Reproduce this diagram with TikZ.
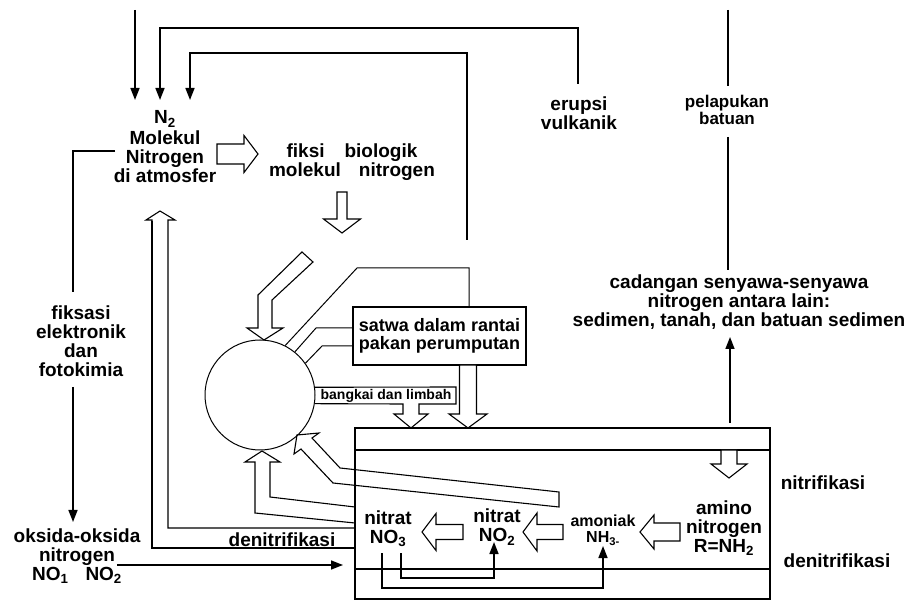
\documentclass[tikz,border=0pt]{standalone}
\usepackage{fontspec}
\setmainfont{Liberation Sans}
\usetikzlibrary{arrows.meta}

% fat (hollow) arrow: tip, angle, length, half shaft, half head
\newcommand{\fatarrow}[5]{%
  \draw[hollow,fill=white,shift={#1},rotate=#2] (0,0) -- (-14,-#5) -- (-14,-#4)
    -- (-#3,-#4) -- (-#3,#4) -- (-14,#4) -- (-14,#5) -- cycle;}

\begin{document}
\begin{tikzpicture}[x=1pt,y=-1pt,
  every node/.style={font=\bfseries\fontsize{19}{19}\selectfont,align=center,inner sep=0pt},
  small/.style={font=\bfseries\fontsize{16}{16}\selectfont},
  tiny/.style={font=\bfseries\fontsize{14}{14}\selectfont},
  arrow/.style={-{Triangle[length=12pt,width=9pt]},line width=1.6pt},
  link/.style={line width=1.6pt},
  channel/.style={line width=1pt},
  hollow/.style={line width=1.1pt,line join=miter}
]
\useasboundingbox (0,0) rectangle (919,601);

% texts
\node (n2)      at (165,147) {N\textsubscript{2}\\[2pt]Molekul\\Nitrogen\\di atmosfer};
\node (fiksi)   at (352,162) {fiksi\hspace{20pt}biologik\\molekul\hspace{18pt}nitrogen};
\node (erupsi)  at (579,113) {erupsi\\vulkanik};
\node[font=\bfseries\fontsize{17}{17}\selectfont] (lapuk) at (727,110) {pelapukan\\batuan};
\node (cadang)  at (739,302) {cadangan senyawa-senyawa\\nitrogen antara lain:\\sedimen, tanah, dan batuan sedimen};
\node (fotokim) at (81,341) {fiksasi\\elektronik\\dan\\fotokimia};
\node (oksida)  at (77,556) {oksida-oksida\\nitrogen\\NO\textsubscript{1}\hspace{17pt}NO\textsubscript{2}};
\node (denitl)  at (282,540) {denitrifikasi};
\node (nitrif)  at (823,483) {nitrifikasi};
\node (denitr)  at (837,561) {denitrifikasi};

% boxes and the circle
\node[circle,draw,line width=1pt,minimum size=110pt] (organisme) at (260,395) {};
\node[draw,line width=1.4pt,minimum width=173pt,minimum height=58pt,
      font=\bfseries\fontsize{18}{18}\selectfont] (satwa) at (439.5,336) {satwa dalam rantai\\pakan perumputan};
\node[draw,line width=1.4pt,minimum width=415pt,minimum height=171pt] (tanah) at (562.5,513.5) {};
\draw[link] (355,450) -- (771,450);
\draw[link] (355,569) -- (771,569);

\node (no3)   at (388,529) {nitrat\\NO\textsubscript{3}};
\node (no2)   at (497,527) {nitrat\\NO\textsubscript{2}};
\node[small] (nh3) at (603,530) {amoniak\\NH\textsubscript{3-}};
\node (amino) at (724,528) {amino\\nitrogen\\R=NH\textsubscript{2}};
\node[tiny] (bangkai) at (386,396) {bangkai dan limbah};

% free ends
\coordinate (sky)    at (135,10);
\coordinate (in1)    at (135,100);
\coordinate (in2)    at (160,100);
\coordinate (in3)    at (190,100);
\coordinate (volc)   at (578,84);
\coordinate (bio)    at (467,240);
\coordinate (rock)   at (728,10);
\coordinate (rockup) at (728,86);
\coordinate (rockdn) at (728,137);
\coordinate (cadbot) at (728,270);
\coordinate (reserve) at (730,423);
\coordinate (cadin)  at (730,337);
\coordinate (n2left) at (115,151);
\coordinate (fkstop) at (73,292);
\coordinate (fksbot) at (73,387);
\coordinate (oksin)  at (73,522);
\coordinate (oksout) at (117,565);
\coordinate (tanin)  at (343,565);
\coordinate (no3a)   at (401,553);
\coordinate (no3b)   at (382,553);
\coordinate (no2in)  at (494,542);
\coordinate (nh3in)  at (603,546);

% connectors
\draw[arrow] (sky) -- (in1);
\draw[arrow] (volc) -- ++(0,-56) -| (in2);
\draw[arrow] (bio) -- ++(0,-187) -| (in3);
\draw[link] (rock) -- (rockup);
\draw[link] (rockdn) -- (cadbot);
\draw[arrow] (reserve) -- (cadin);
\draw[link] (n2left) -| (fkstop);
\draw[arrow] (fksbot) -- (oksin);
\draw[arrow] (oksout) -- (tanin);
\draw[arrow] (no3a) -- ++(0,25) -| (no2in);
\draw[arrow] (no3b) -- ++(0,35) -| (nh3in);

% channels between circle and satwa box
\draw[channel] (organisme.63) -- (357,268) -- (469,268) -- (469,307);
\draw[channel] (organisme.51) -- (316,328) -- (353,328);
\draw[channel] (organisme.35) -- (322,346) -- (353,346);
\draw[hollow] (organisme.8) -- (456,387) -- (456,404) -- (419,404) -- (419,414)
  -- (428,414) -- (411,428) -- (394,414) -- (403,414) -- (403,404) -- (organisme.-9);

% bent hollow arrows
\draw[hollow] (302,252) -- (258,295) -- (258,328) -- (247,328) -- (264,340)
  -- (283,328) -- (272,328) -- (272,300) -- (313,262) -- cycle;
\draw[hollow] (559,492) -- (340,468) -- (312,438) -- (319,433) -- (297,435)
  -- (294,454) -- (301,449) -- (333,483) -- (559,507) -- cycle;
\draw[hollow] (355,523) -- (255,513) -- (255,462) -- (245,462) -- (262,451)
  -- (280,462) -- (270,462) -- (270,497) -- (355,507);
\draw[hollow] (355,548) -- (152,548) -- (152,220) -- (146,220) -- (160,211)
  -- (175,220) -- (168,220) -- (168,528) -- (355,528);
\draw[link] (355,548) -| (152,221);

% straight hollow arrows
\fatarrow{(258,154)}{0}{41}{10}{18.5}
\fatarrow{(342,233)}{-90}{41}{5}{18.5}
\fatarrow{(468,428)}{-90}{63}{8.5}{19}
\fatarrow{(729,478)}{-90}{28}{8}{18}
\fatarrow{(422,532)}{180}{41}{7.5}{18.5}
\fatarrow{(523,532)}{180}{40}{7.5}{19}
\fatarrow{(640,532)}{180}{40}{9}{17}

\end{tikzpicture}
\end{document}
